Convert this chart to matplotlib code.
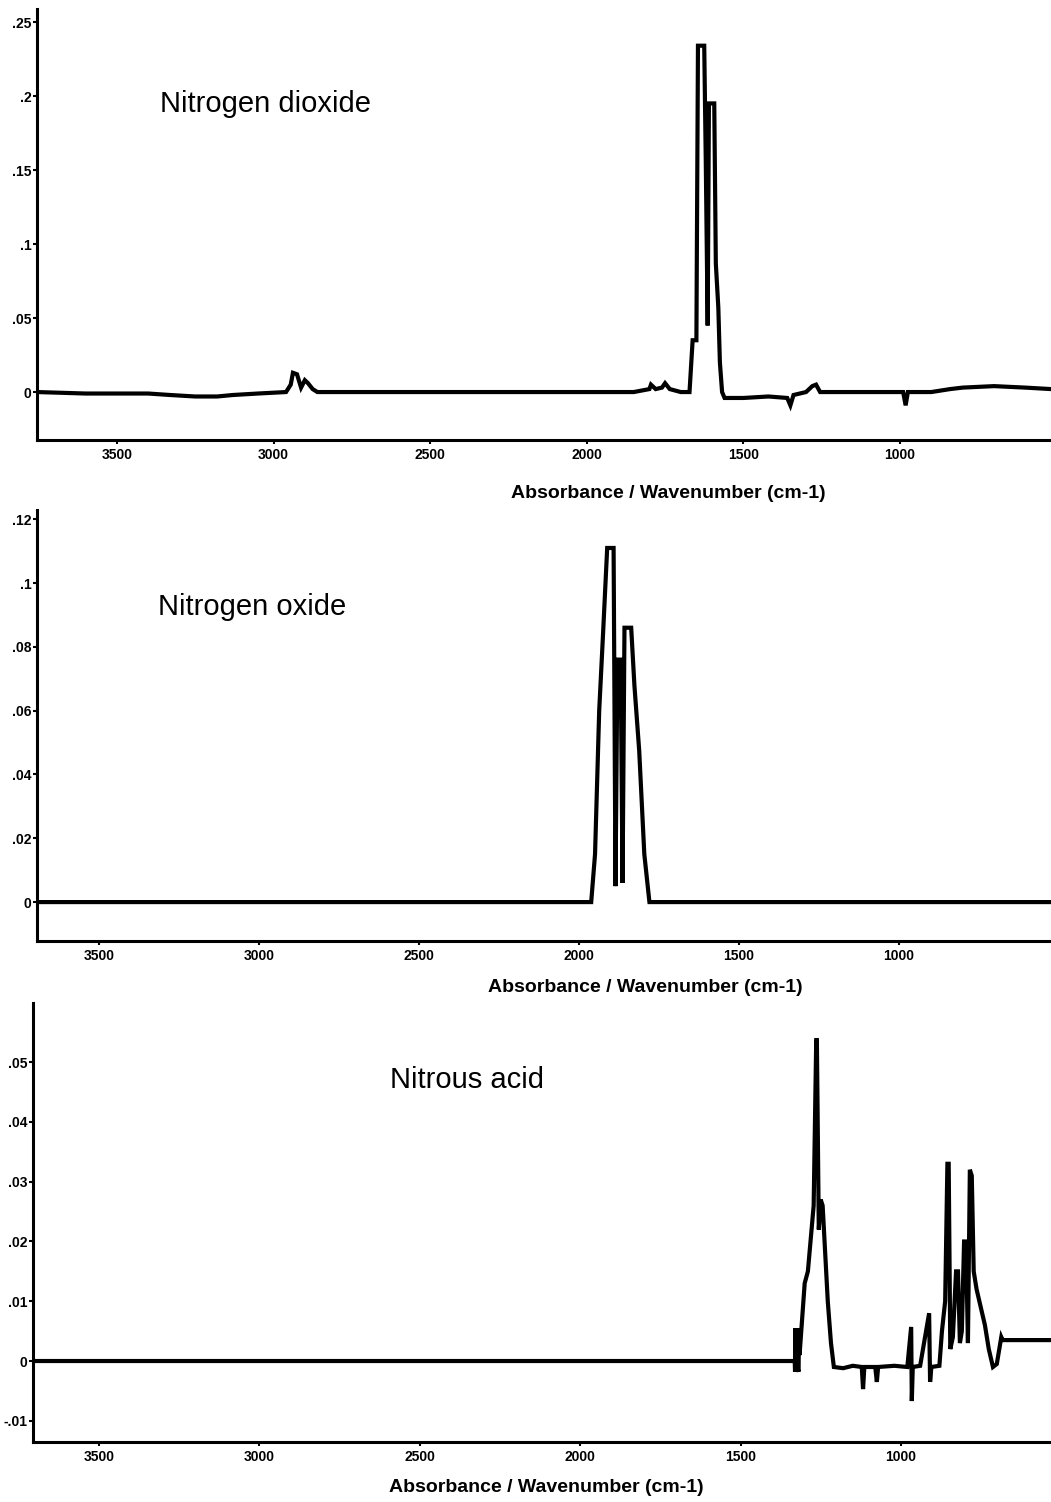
import matplotlib
matplotlib.use("Agg")
import matplotlib.pyplot as plt

plt.rcParams['font.family'] = ['Liberation Sans', 'DejaVu Sans']

# Nitrogen dioxide spectrum (wavenumber, absorbance)
no2_wn = [3755, 3600, 3500, 3400, 3330, 3250, 3180, 3130, 3050, 2960, 2945, 2938,
          2925, 2912, 2900, 2890, 2875, 2860, 2700, 2200, 1850, 1800, 1795, 1780,
          1760, 1750, 1735, 1700, 1672, 1662, 1650, 1645, 1625, 1620, 1614, 1610,
          1593, 1588, 1580, 1575, 1568, 1560, 1500, 1420, 1360, 1350, 1340, 1300,
          1280, 1268, 1255, 1200, 1100, 990, 982, 975, 900, 840, 800, 700, 600, 518]
no2_abs = [0.0, -0.001, -0.001, -0.001, -0.002, -0.003, -0.003, -0.002, -0.001, 0.0, 0.005, 0.013,
           0.012, 0.003, 0.008, 0.006, 0.002, 0.0, 0.0, 0.0, 0.0, 0.002, 0.005, 0.002,
           0.003, 0.006, 0.002, 0.0, 0.0, 0.035, 0.035, 0.234, 0.234, 0.155, 0.045, 0.195,
           0.195, 0.087, 0.057, 0.02, 0.0, -0.004, -0.004, -0.003, -0.004, -0.009, -0.002, 0.0,
           0.004, 0.005, 0.0, 0.0, 0.0, 0.0, -0.009, 0.0, 0.0, 0.002, 0.003, 0.004, 0.003, 0.002]

# Nitrogen oxide spectrum
no_wn = [3694, 2500, 2000, 1962, 1958, 1950, 1937, 1925, 1912, 1892, 1886, 1880,
         1870, 1864, 1858, 1837, 1827, 1812, 1796, 1780, 1700, 525]
no_abs = [0.0, 0.0, 0.0, 0.0, 0.005, 0.015, 0.06, 0.084, 0.111, 0.111, 0.005, 0.076,
          0.076, 0.006, 0.086, 0.086, 0.068, 0.0475, 0.015, 0.0, 0.0, 0.0]

# Nitrous acid spectrum
hno2_wn = [3706, 1332, 1331, 1330, 1329, 1328, 1319, 1318, 1316, 1300, 1290, 1272,
           1264, 1262, 1256, 1250, 1244, 1237, 1228, 1218, 1209, 1180, 1150, 1122,
           1118, 1114, 1080, 1075, 1071, 1020, 980, 968, 966, 963, 940, 912, 909,
           905, 880, 872, 862, 855, 851, 846, 838, 828, 822, 816, 810, 803, 797,
           791, 785, 779, 773, 764, 751, 738, 726, 713, 701, 687, 683, 676, 532]
hno2_abs = [0.0, 0.0, 0.0, -0.0018, 0.0055, 0.0, -0.0018, 0.0055, 0.001, 0.013, 0.015, 0.026,
            0.0537, 0.0537, 0.022, 0.027, 0.026, 0.019, 0.01, 0.003, -0.001, -0.0012, -0.0008, -0.001,
            -0.0047, -0.001, -0.001, -0.0035, -0.001, -0.0008, -0.001, 0.0057, -0.0067, -0.001, -0.0008, 0.008, -0.0035,
            -0.001, -0.0008, 0.005, 0.01, 0.033, 0.033, 0.002, 0.004, 0.015, 0.015, 0.003, 0.005, 0.02, 0.02,
            0.003, 0.032, 0.031, 0.015, 0.012, 0.009, 0.006, 0.002, -0.001, -0.0005, 0.004, 0.0035, 0.0035, 0.0035]

x_ticks = [3500, 3000, 2500, 2000, 1500, 1000]
x_tick_labels = ['3500', '3000', '2500', '2000', '1500', '1000']

no2_yticks = [0, 0.05, 0.1, 0.15, 0.2, 0.25]
no2_ylabels = ['0', '.05', '.1', '.15', '.2', '.25']
no_yticks = [0, 0.02, 0.04, 0.06, 0.08, 0.1, 0.12]
no_ylabels = ['0', '.02', '.04', '.06', '.08', '.1', '.12']
hno2_yticks = [-0.01, 0, 0.01, 0.02, 0.03, 0.04, 0.05]
hno2_ylabels = ['-.01', '0', '.01', '.02', '.03', '.04', '.05']

W, H = 1051, 1502
fig = plt.figure(figsize=(W / 100, H / 100), dpi=100)
fig.patch.set_facecolor('white')


def px_rect(left, top, bottom):
    # axes rectangle from pixel coordinates, running to the right edge
    return [left / W, 1 - bottom / H, (W - left) / W, (bottom - top) / H]


panels = [
    dict(rect=px_rect(37, 9, 440), wn=no2_wn, ab=no2_abs, xlim=(3755, 518), ylim=(-0.0324, 0.2588),
         yticks=no2_yticks, ylabels=no2_ylabels, name='Nitrogen dioxide', name_xy=(160, 104),
         xlabel_xy=(668, 494)),
    dict(rect=px_rect(37, 510, 941), wn=no_wn, ab=no_abs, xlim=(3694, 525), ylim=(-0.0122, 0.1229),
         yticks=no_yticks, ylabels=no_ylabels, name='Nitrogen oxide', name_xy=(158, 607),
         xlabel_xy=(645, 987)),
    dict(rect=px_rect(33, 1003, 1442), wn=hno2_wn, ab=hno2_abs, xlim=(3706, 532), ylim=(-0.01355, 0.0599),
         yticks=hno2_yticks, ylabels=hno2_ylabels, name='Nitrous acid', name_xy=(390, 1080),
         xlabel_xy=(546, 1487)),
]

for p in panels:
    ax = fig.add_axes(p['rect'])
    ax.plot(p['wn'], p['ab'], color='black', linewidth=3.0, solid_joinstyle='miter')
    ax.set_xlim(*p['xlim'])
    ax.set_ylim(*p['ylim'])
    ax.set_xticks(x_ticks)
    ax.set_xticklabels(x_tick_labels, fontsize=10, fontweight='bold')
    ax.set_yticks(p['yticks'])
    ax.set_yticklabels(p['ylabels'], fontsize=10, fontweight='bold')
    ax.tick_params(axis='x', direction='out', length=3, width=1.5, pad=3)
    ax.tick_params(axis='y', direction='out', length=3, width=1.5, pad=1)
    for side in ['top', 'right']:
        ax.spines[side].set_visible(False)
    for side in ['left', 'bottom']:
        ax.spines[side].set_linewidth(2.2)
    ax.set_facecolor('none')

    fig.text(p['name_xy'][0] / W, 1 - p['name_xy'][1] / H, p['name'],
             fontsize=21, ha='left', va='center')
    fig.text(p['xlabel_xy'][0] / W, 1 - p['xlabel_xy'][1] / H, 'Absorbance / Wavenumber (cm-1)',
             fontsize=14, fontweight='bold', ha='center', va='center')

fig.savefig('out.png', dpi=100, facecolor='white')
